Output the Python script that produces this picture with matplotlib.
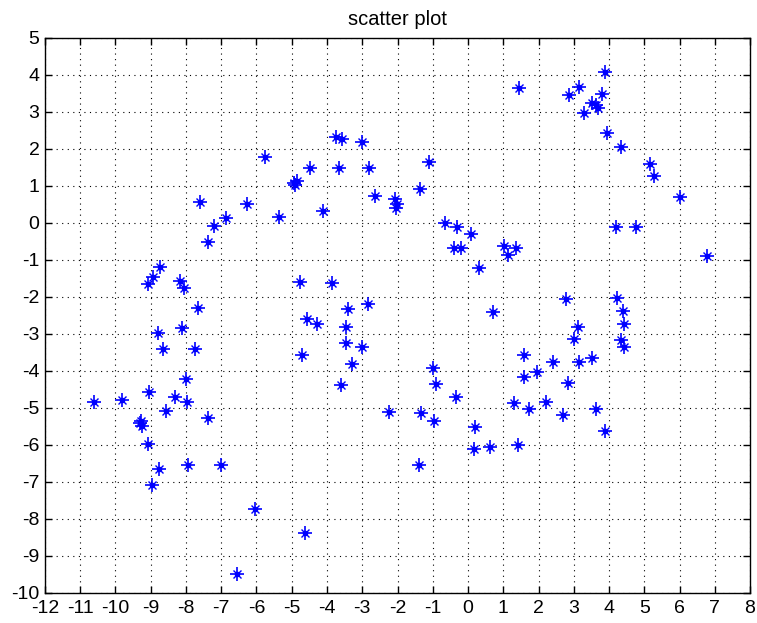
import numpy as np
import matplotlib
matplotlib.use('Agg')
import matplotlib.pyplot as plt

# points
x_vals = [
    -9.07, -8.93, -8.74, -8.17, -8.05, -7.65, -7.60, -7.37, -7.20, -6.87,
    -6.28, -5.76, -5.35, -4.95, -4.85, -4.90, -4.48, -4.12, -3.74, -3.58,
    -3.65, -3.02, -2.80, -2.64, -4.77, -3.85, -3.40, -2.85,
    -1.10, -1.37, -2.06, -2.02, -2.05, -0.66, -0.31, 0.09, -0.39, -0.20,
    0.30, 1.01, 1.37, 1.13, 1.46, 2.87, 3.14, 3.88, 3.80, 3.52, 3.62, 3.70,
    3.30, 3.94, 4.35, 5.17, 5.27, 6.00, 4.21, 4.76, 6.78, 2.78, 4.24, 4.40,
    0.71,
    -8.80, -8.66, -8.11, -7.74, -8.01, -9.04, -8.31, -7.98, -8.58, -7.38,
    -9.81, -10.60, -9.30, -9.24, -9.28, -9.07, -8.76, -7.93, -7.02, -8.97,
    -6.04, -4.62, -6.54, -4.58, -4.29, -3.47, -3.47, -3.00, -4.70, -3.28,
    -3.61,
    -2.23, -1.32, -0.97, -0.99, -0.90, -0.34, -1.40, 0.19, 0.16, 0.63,
    1.41, 1.30, 1.72, 1.58, 1.58, 1.96, 2.22, 2.41, 2.69, 2.83, 3.02, 3.11,
    3.14, 3.52, 3.64, 3.90, 4.43, 4.35, 4.43,
]
y_vals = [
    -1.65, -1.46, -1.19, -1.58, -1.77, -2.29, 0.55, -0.53, -0.08, 0.12,
    0.51, 1.78, 0.16, 1.08, 1.12, 1.02, 1.47, 0.32, 2.32, 2.27,
    1.47, 2.17, 1.47, 0.72, -1.59, -1.64, -2.34, -2.20,
    1.63, 0.90, 0.63, 0.50, 0.39, 0.00, -0.11, -0.31, -0.67, -0.67,
    -1.23, -0.62, -0.67, -0.87, 3.63, 3.45, 3.66, 4.06, 3.48, 3.23, 3.18, 3.10,
    2.96, 2.43, 2.04, 1.58, 1.26, 0.69, -0.11, -0.11, -0.90, -2.06, -2.03, -2.39,
    -2.42,
    -2.99, -3.40, -2.85, -3.40, -4.22, -4.57, -4.70, -4.84, -5.09, -5.27,
    -4.79, -4.84, -5.40, -5.50, -5.36, -5.98, -6.64, -6.55, -6.55, -7.07,
    -7.74, -8.39, -9.48, -2.60, -2.74, -2.81, -3.24, -3.35, -3.56, -3.82,
    -4.39,
    -5.11, -5.14, -5.36, -3.92, -4.36, -4.70, -6.53, -5.53, -6.10, -6.05,
    -6.01, -4.88, -5.04, -3.56, -4.16, -4.04, -4.84, -3.77, -5.18, -4.34, -3.15, -2.81,
    -3.77, -3.65, -5.04, -5.62, -2.74, -3.17, -3.35,
]
x_ticks = list(range(-12, 9))
y_ticks = list(range(-10, 6))

plt.rcParams['font.family'] = ['Liberation Sans', 'DejaVu Sans']
plt.rcParams['axes.unicode_minus'] = False

fig = plt.figure(figsize=(7.57, 6.23), dpi=100)
ax = fig.add_axes([0.0594, 0.0482, 0.9314, 0.8913])

# MATLAB-like asterisk: plus + small cross + dot
ax.plot(x_vals, y_vals, linestyle='none', marker='+', markersize=10,
        markeredgewidth=1.2, color='blue')
ax.plot(x_vals, y_vals, linestyle='none', marker='x', markersize=6,
        markeredgewidth=1.0, color='blue')
ax.plot(x_vals, y_vals, linestyle='none', marker='o', markersize=3,
        color='blue')

ax.set_xlim(-12, 8)
ax.set_ylim(-10, 5)
ax.set_xticks(x_ticks)
ax.set_yticks(y_ticks)
ax.tick_params(direction='in', length=5, width=1, top=True, right=True,
               labelsize=14)
ax.tick_params(axis='x', pad=5)
ax.tick_params(axis='y', pad=4)
ax.grid(True, linestyle=(0, (1, 4)), color='black', linewidth=0.8)
for s in ax.spines.values():
    s.set_linewidth(1)
ax.set_title('scatter plot', fontsize=14.5, pad=9)

fig.savefig('out.png', dpi=100)
